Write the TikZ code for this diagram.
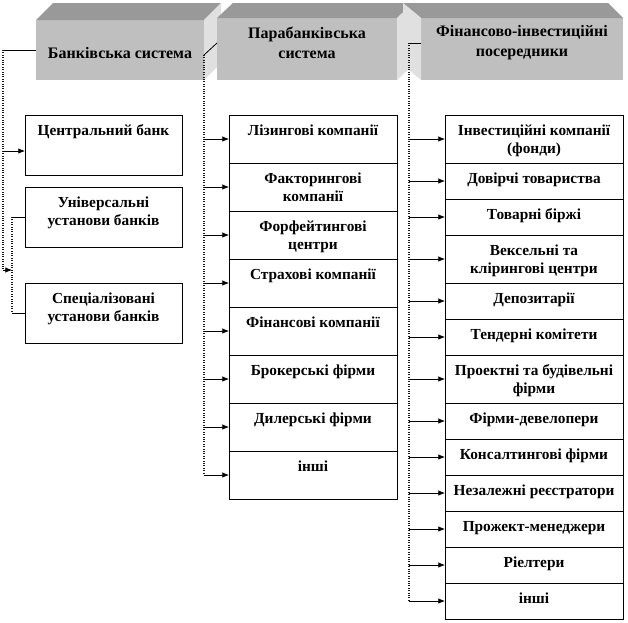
\documentclass[tikz,border=0pt]{standalone}
\usepackage{fontspec}
\setmainfont{Liberation Serif}
\usetikzlibrary{arrows.meta,positioning}

\newcommand{\celltxt}[3]{\parbox[c][#2][t]{#1}{\centering\rule{0pt}{15pt}#3\par}}

\begin{document}
\begin{tikzpicture}[x=0.75pt,y=-0.75pt,
    font=\fontsize{11.5pt}{13.5pt}\selectfont\bfseries,
    cell/.style={draw, line width=0.6pt, inner sep=0pt, outer sep=0pt},
    arr/.style={-{Latex[length=5pt,width=4pt]}, line width=0.5pt},
    bus/.style={densely dotted, line width=0.8pt, black!90},
    link/.style={line width=0.6pt},
    front/.style={fill=black!25, inner sep=0pt, outer sep=0pt},
    topface/.style={fill=black!40},
    sideface/.style={fill=black!12},
    hdrtext/.style={align=center, font=\fontsize{12pt}{15pt}\selectfont\bfseries}]
  \useasboundingbox (0,0) rectangle (628,622);

  % headers
  \node[front, minimum width=126pt, minimum height=45pt] (bank) at (120,50) {};
  \fill[topface] (bank.north west) -- ++(17,-17) -- ([shift={(17,-17)}]bank.north east) -- (bank.north east) -- cycle;
  \fill[sideface] (bank.north east) -- ++(17,-17) -- ([shift={(17,-17)}]bank.south east) -- (bank.south east) -- cycle;
  \node[hdrtext] (bankt) at ([yshift=-2.25pt]bank.center) {Банківська система};

  \node[front, minimum width=135pt, minimum height=46.5pt] (para) at (307,49) {};
  \fill[topface] (para.north west) -- ++(16,-15) -- ([shift={(16,-15)}]para.north east) -- (para.north east) -- cycle;
  \fill[sideface] (para.north east) -- ++(16,-15) -- ([shift={(16,-15)}]para.south east) -- (para.south east) -- cycle;
  \node[hdrtext] (parat) at ([yshift=4.5pt]para.center) {Парабанківська\\система};

  \node[front, minimum width=151.5pt, minimum height=46.5pt] (fin) at (522,49) {};
  \fill[topface] (fin.north west) -- ++(-18,-15) -- ([shift={(-15,-15)}]fin.north east) -- (fin.north east) -- cycle;
  \fill[sideface] (fin.north west) -- ++(-18,-15) -- ([shift={(-18,-15)}]fin.south west) -- (fin.south west) -- cycle;
  \node[hdrtext] (fint) at ([yshift=4.5pt]fin.center) {Фінансово-інвестиційні\\посередники};

  % banking system
  \node[cell, anchor=north] (cb) at (103.5,115) {\celltxt{117.75pt}{45pt}{Центральний банк}};
  \node[cell, below=9pt of cb] (ub) {\celltxt{117.75pt}{45pt}{Універсальні\\установи банків}};
  \node[cell, below=27pt of ub] (sb) {\celltxt{117.75pt}{45pt}{Спеціалізовані\\установи банків}};

  \coordinate (lb) at (3,50);
  \coordinate (lbe) at (3,270);
  \coordinate (br) at (12,270);
  \draw[link] (bank.west) -- (lb);
  \draw[bus] (lb) -- (lbe);
  \draw[arr] ([yshift=-4.5pt]lb |- cb.west) -- ([yshift=-4.5pt]cb.west);
  \draw[arr] (lbe) -- (br);
  \draw[bus] (br |- ub.west) -- (br |- sb.west);
  \draw[link] (br |- ub.west) -- (ub.west);
  \draw[link] (br |- sb.west) -- (sb.west);

  % parabanking system
  \coordinate (m0) at (313,115);
  \coordinate (mb) at (204,55);
  \draw[link] ([yshift=4.5pt]para.west) -- (mb);
  \foreach \t [count=\i] in {Лізингові компанії, {Факторингові\\компанії}, {Форфейтингові\\центри},
      Страхові компанії, Фінансові компанії, Брокерські фірми, Дилерські фірми, інші}{
    \pgfmathtruncatemacro\j{\i-1}
    \node[cell, below=0pt of m\j] (m\i) {\celltxt{126pt}{36pt}{\t}};
    \draw[arr] (mb |- m\i.west) -- (m\i.west);
  }
  \draw[bus] (mb) -- (mb |- m8.west);

  % financial intermediaries
  \coordinate (r0) at (534,115);
  \coordinate (rb) at (409,43);
  \draw[link] ([yshift=4.5pt]fin.west) -- (rb);
  \foreach \h/\t [count=\i] in {36pt/{Інвестиційні компанії\\(фонди)}, 27pt/Довірчі товариства,
      27pt/Товарні біржі, 36pt/{Вексельні та\\клірингові центри}, 27pt/Депозитарії,
      27pt/Тендерні комітети, 36pt/{Проектні та будівельні\\фірми}, 27pt/Фірми-девелопери,
      27pt/Консалтингові фірми, 27pt/Незалежні реєстратори, 27pt/Прожект-менеджери,
      27pt/Ріелтери, 27pt/інші}{
    \pgfmathtruncatemacro\j{\i-1}
    \node[cell, below=0pt of r\j] (r\i) {\celltxt{133.5pt}{\h}{\t}};
    \draw[arr] (rb |- r\i.west) -- (r\i.west);
  }
  \draw[bus] (rb) -- (rb |- r13.west);
\end{tikzpicture}
\end{document}
